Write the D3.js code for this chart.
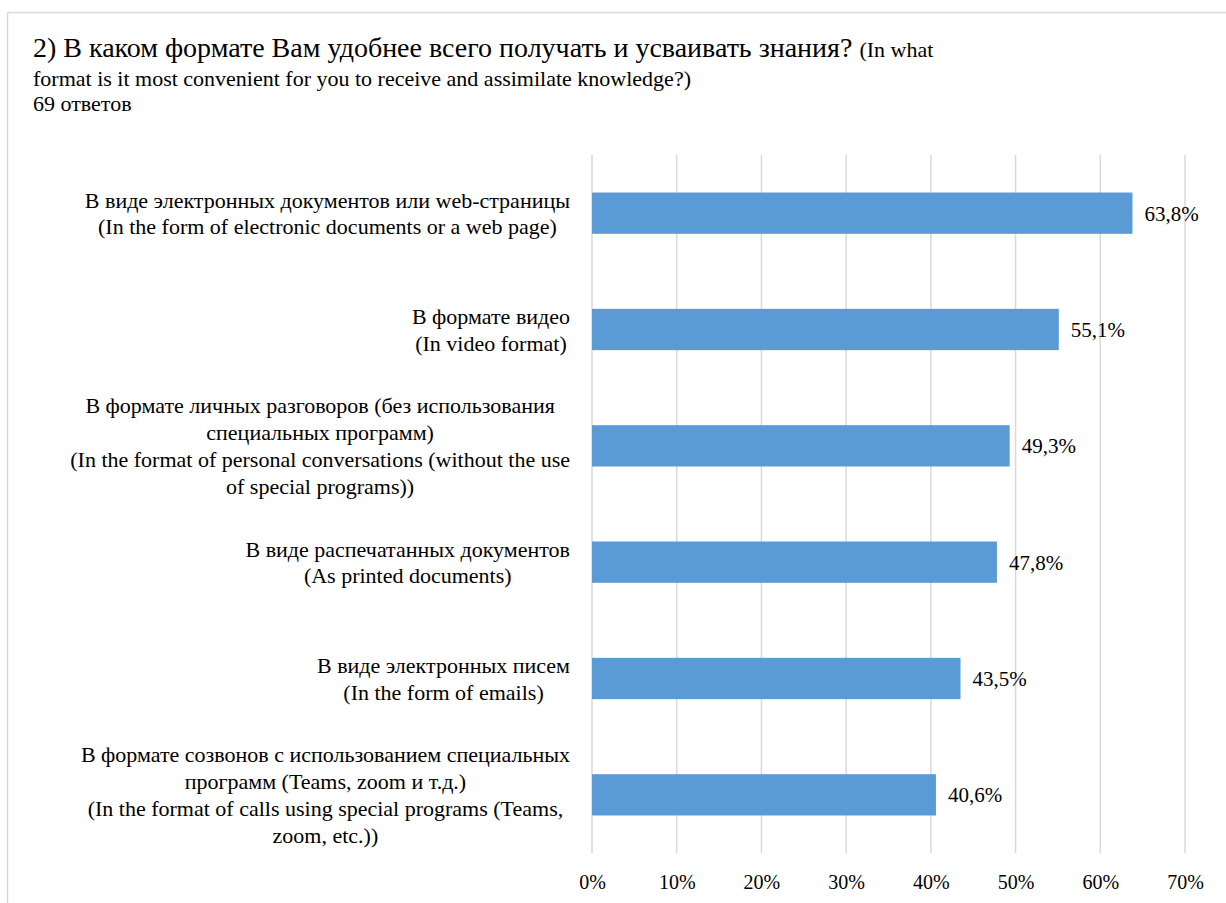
<!DOCTYPE html>
<html><head><meta charset="utf-8">
<script src="https://cdn.jsdelivr.net/npm/d3@7"></script>
<style>
html,body{margin:0;padding:0;background:#fff;}
svg, svg text{font-family:"Liberation Serif","Tinos","Times New Roman","DejaVu Serif","Liberation Sans",serif;}
</style></head>
<body><svg id="c" width="1226" height="903"></svg>
<script>
const categories = [
  ["В виде электронных документов или web-страницы", "(In the form of electronic documents or a web page)"],
  ["В формате видео", "(In video format)"],
  ["В формате личных разговоров (без использования", "специальных программ)", "(In the format of personal conversations (without the use", "of special programs))"],
  ["В виде распечатанных документов", "(As printed documents)"],
  ["В виде электронных писем", "(In the form of emails)"],
  ["В формате созвонов с использованием специальных", "программ (Teams, zoom и т.д.)", "(In the format of calls using special programs (Teams,", "zoom, etc.))"]
];
const values = [63.8, 55.1, 49.3, 47.8, 43.5, 40.6];
const ticks = [0, 10, 20, 30, 40, 50, 60, 70];

const svg = d3.select("#c");
// frame
svg.append("line").attr("x1",7.5).attr("x2",1226).attr("y1",12.5).attr("y2",12.5).attr("stroke","#d9d9d9").attr("stroke-width",1.5);
svg.append("line").attr("x1",7.5).attr("x2",7.5).attr("y1",12.5).attr("y2",903).attr("stroke","#d9d9d9").attr("stroke-width",1.5);

// title
const t1 = svg.append("text").attr("x",33).attr("y",57).attr("fill","#000");
t1.append("tspan").attr("font-size",28).text("2) В каком формате Вам удобнее всего получать и усваивать знания? ");
t1.append("tspan").attr("font-size",22).text("(In what");
svg.append("text").attr("x",33).attr("y",86).attr("font-size",22).text("format is it most convenient for you to receive and assimilate knowledge?)");
svg.append("text").attr("x",33).attr("y",111).attr("font-size",22).text("69 ответов");

const x = d3.scaleLinear().domain([0,70]).range([592,1185]);
const y = d3.scaleBand().domain(d3.range(values.length)).range([155,853]).paddingInner(0.645).paddingOuter(0.3225);

// grid
svg.append("g").selectAll("line").data(ticks).join("line")
  .attr("x1",d=>x(d)).attr("x2",d=>x(d)).attr("y1",155).attr("y2",853)
  .attr("stroke","#d9d9d9").attr("stroke-width",1.5);

// bars
svg.append("g").selectAll("rect").data(values).join("rect")
  .attr("x",x(0)).attr("y",(d,i)=>y(i)).attr("width",d=>x(d)-x(0)).attr("height",y.bandwidth())
  .attr("fill","#5b9bd5");

// value labels
svg.append("g").selectAll("text").data(values).join("text")
  .attr("x",d=>x(d)+12).attr("y",(d,i)=>y(i)+y.bandwidth()/2).attr("dy","0.35em")
  .attr("font-size",21).text(d=>d.toFixed(1).replace(".",",")+"%");

// x axis tick labels
const xa = svg.append("g").attr("transform","translate(0,853)").call(d3.axisBottom(x).tickValues(ticks).tickSize(0).tickPadding(22).tickFormat(d=>d+"%"));
xa.attr("font-family",null);
xa.select(".domain").remove();
xa.selectAll("text").attr("font-size",20).attr("fill","#000");

// category labels
const lh = 26.7;
categories.forEach((lines,i)=>{
  const g = svg.append("g");
  const cy = y(i)+y.bandwidth()/2;
  const n = lines.length;
  const texts = lines.map((l,j)=> g.append("text").attr("font-size",22).attr("text-anchor","middle")
     .attr("y", cy + (j-(n-1)/2)*lh).attr("dy","0.35em").text(l));
  const maxW = d3.max(texts, t=>t.node().getComputedTextLength());
  texts.forEach(t=>t.attr("x", 570 - maxW/2));
});
</script></body></html>
